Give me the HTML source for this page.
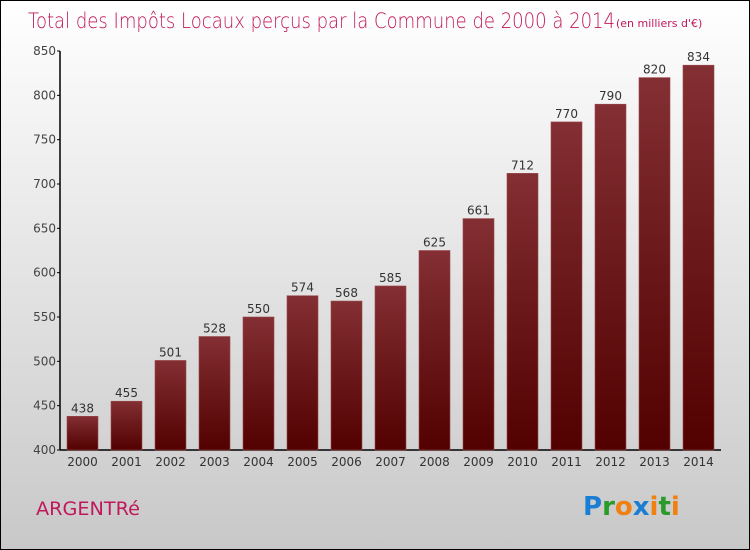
<!DOCTYPE html>
<html><head><meta charset="utf-8"><style>
html,body{margin:0;padding:0}
body{width:750px;height:550px;overflow:hidden}
svg{display:block;font-family:"DejaVu Sans","Liberation Sans",sans-serif}
</style></head><body>
<svg id="c" width="750" height="550" viewBox="0 0 750 550">
<defs>
<linearGradient id="bg" x1="0" y1="0" x2="0" y2="1"><stop offset="0" stop-color="#ffffff"/><stop offset="1" stop-color="#c8c8c8"/></linearGradient>
<linearGradient id="bar" x1="0" y1="0" x2="0" y2="1"><stop offset="0" stop-color="#832f33"/><stop offset="1" stop-color="#520000"/></linearGradient>
</defs>
<rect x="0.5" y="0.5" width="749" height="549" fill="url(#bg)" stroke="#000"/>
<text x="28" y="28" font-size="21" fill="#c0185a" font-weight="200" textLength="587" lengthAdjust="spacingAndGlyphs">Total des Impôts Locaux perçus par la Commune de 2000 à 2014</text>
<text x="616" y="27" font-size="11" fill="#c0185a">(en milliers d'€)</text>
<g id="plot"></g>
<text x="36" y="515" font-size="19" fill="#c0185a" textLength="104" lengthAdjust="spacingAndGlyphs">ARGENTRé</text>
<g font-size="26" font-weight="bold" font-family="'DejaVu Sans',sans-serif">
<text x="583" y="515"><tspan fill="#1a7fd4">P</tspan><tspan fill="#2a9a2a">r</tspan><tspan fill="#f08010">o</tspan><tspan fill="#1a7fd4">x</tspan><tspan fill="#f08010">i</tspan><tspan fill="#2a9a2a">t</tspan><tspan fill="#f08010">i</tspan></text>
</g>
</svg>
<script>
const years=["2000","2001","2002","2003","2004","2005","2006","2007","2008","2009","2010","2011","2012","2013","2014"];
const values=[438,455,501,528,550,574,568,585,625,661,712,770,790,820,834];
const yTicks=[400,450,500,550,600,650,700,750,800,850];
const NS="http://www.w3.org/2000/svg";
const g=document.getElementById('plot');
const y0=450,y1=51,vmin=400,vmax=850;
const ys=v=>y0-(v-vmin)/(vmax-vmin)*(y0-y1);
const xs=i=>67+i*44;
const bw=31;
function mk(t,a){const e=document.createElementNS(NS,t);for(const k in a)e.setAttribute(k,a[k]);g.appendChild(e);return e;}
let ax=mk('line',{x1:60,y1:y1,x2:60,y2:y0,stroke:'#000','stroke-width':1.5});


let bx=mk('line',{x1:60,y1:y0,x2:721,y2:y0,stroke:'#000','stroke-width':1.5});


yTicks.forEach(v=>{
 const y=ys(v);
 let tk=mk('line',{x1:57,y1:y,x2:60,y2:y,stroke:'#000'});
 
 
 let t=mk('text',{x:56,y:y+4,'text-anchor':'end','font-size':12,fill:'#444'});
 t.textContent=v;
 
 
});
values.forEach((v,i)=>{
 const x=xs(i),y=ys(v);
 let r=mk('rect',{x:x,y:y,width:bw,height:y0-y,fill:'url(#bar)',stroke:'#9a4a4e','stroke-width':0.6});
 
 
 let t=mk('text',{x:x+bw/2,y:y-4,'text-anchor':'middle','font-size':12,fill:'#333'});
 t.textContent=v;
 
 
 let l=mk('text',{x:x+bw/2,y:466,'text-anchor':'middle','font-size':12,fill:'#333'});
 l.textContent=years[i];
 
 
});
</script>
</body></html>
